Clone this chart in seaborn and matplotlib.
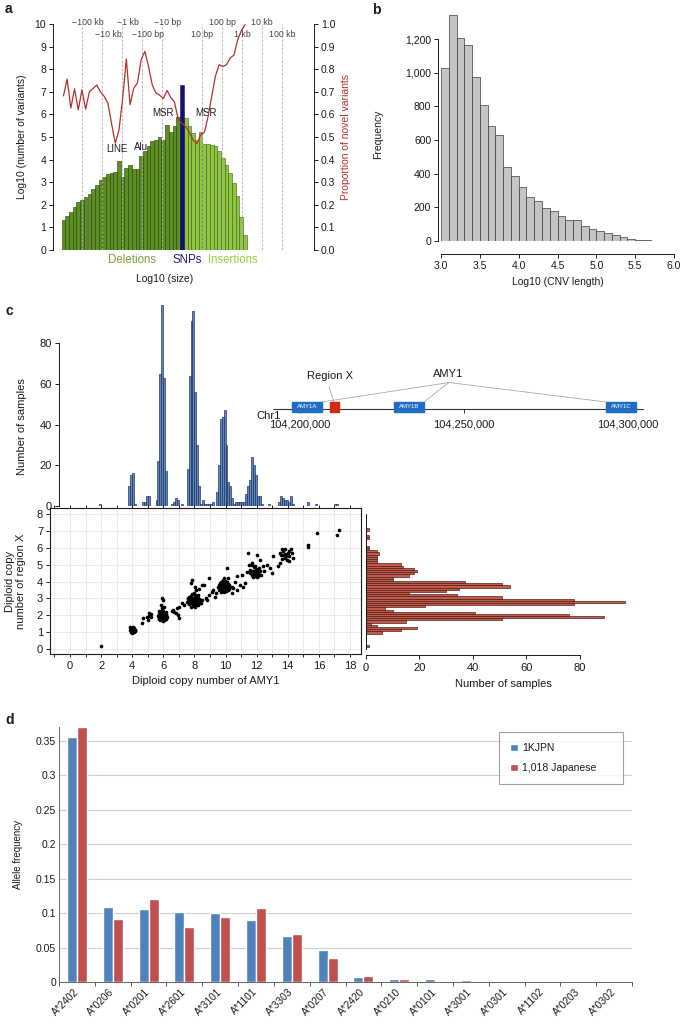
import numpy as np
import pandas as pd
import seaborn as sns
import matplotlib
matplotlib.use('Agg')
import matplotlib.pyplot as plt
from matplotlib.patches import Rectangle
from matplotlib.ticker import FuncFormatter, FormatStrFormatter, MultipleLocator

W, H = 685, 1025

# ---------------- data ----------------
# a: log10 variant counts per size bin, proportion of novel variants
del_log10n = [1.33, 1.52, 1.7, 1.92, 2.11, 2.22, 2.33, 2.47, 2.69, 2.88, 3.1, 3.25,
              3.35, 3.4, 3.47, 3.93, 3.25, 3.62, 3.77, 3.57, 3.57, 4.18, 4.36, 4.58,
              4.83, 4.87, 4.98, 4.87, 5.54, 5.24, 5.47, 5.88]
snp_log10n = 7.31
ins_log10n = [5.83, 5.5, 5.17, 4.87, 5.21, 4.7, 4.7, 4.65, 4.58, 4.4, 4.06, 3.74,
              3.4, 2.95, 2.41, 1.45, 0.66]
novel_del = [0.682, 0.756, 0.628, 0.713, 0.62, 0.709, 0.623, 0.70, 0.715, 0.73, 0.70,
             0.68, 0.65, 0.56, 0.473, 0.53, 0.67, 0.845, 0.643, 0.716, 0.739, 0.842,
             0.879, 0.812, 0.73, 0.695, 0.685, 0.67, 0.706, 0.675, 0.655, 0.58]
novel_snp = 0.56
novel_ins = [0.545, 0.52, 0.485, 0.47, 0.51, 0.52, 0.59, 0.68, 0.77, 0.82, 0.812,
             0.82, 0.85, 0.862, 0.93, 0.97, 0.997]
size_labels = ['\u2212100 kb', '\u221210 kb', '\u22121 kb', '\u2212100 bp', '\u221210 bp',
               '10 bp', '100 bp', '1 kb', '10 kb', '100 kb']
size_pos = [-5, -4, -3, -2, -1, 1, 2, 3, 4, 5]

# b: CNV length histogram
cnv_len = [3.05, 3.15, 3.25, 3.35, 3.45, 3.55, 3.65, 3.75, 3.85, 3.95, 4.05, 4.15, 4.25,
           4.35, 4.45, 4.55, 4.65, 4.75, 4.85, 4.95, 5.05, 5.15, 5.25, 5.35, 5.45,
           5.55, 5.65, 5.75]
cnv_freq = [1028, 1345, 1206, 1163, 974, 808, 683, 633, 442, 385, 319, 260, 236, 196,
            179, 147, 123, 123, 87, 69, 58, 48, 34, 22, 10, 8, 6, 2]

# c: AMY1 copy number histogram (bin centre, samples)
amy1_cn = [1.94, 3.81, 3.94, 4.06, 4.19, 4.69, 4.81, 4.94, 5.06, 5.56, 5.69, 5.81, 5.94,
           6.06, 6.19, 6.56, 6.69, 6.81, 6.94, 7.19, 7.56, 7.69, 7.81, 7.94, 8.06, 8.19,
           8.31, 8.44, 8.56, 8.69, 8.81, 8.94, 9.06, 9.19, 9.44, 9.56, 9.69, 9.81, 9.94,
           10.06, 10.19, 10.31, 10.44, 10.56, 10.69, 10.81, 10.94, 11.06, 11.19, 11.31,
           11.44, 11.56, 11.69, 11.81, 11.94, 12.06, 12.19, 12.31, 12.81, 13.44, 13.56,
           13.69, 13.81, 13.94, 14.06, 14.19, 14.31, 15.31, 15.81, 17.06, 17.19]
amy1_n = [1, 10, 15, 16, 1, 2, 2, 5, 5, 3, 22, 65, 99, 63, 17, 1, 2, 4, 3, 1, 18, 64, 91,
          96, 56, 30, 10, 1, 3, 1, 1, 1, 1, 2, 7, 20, 43, 44, 47, 30, 12, 10, 4, 1, 2, 2,
          2, 2, 2, 6, 10, 13, 24, 20, 15, 5, 5, 1, 1, 2, 5, 4, 3, 3, 2, 5, 1, 2, 1, 1, 1]

# c: region X copy number histogram (bin centre, samples)
regx_cn = [0.2, 0.98, 1.1, 1.24, 1.37, 1.5, 1.63, 1.76, 1.89, 2.02, 2.15, 2.28, 2.41,
           2.54, 2.67, 2.8, 2.93, 3.06, 3.19, 3.32, 3.45, 3.58, 3.71, 3.84, 3.97, 4.1,
           4.23, 4.36, 4.49, 4.62, 4.75, 4.88, 5.01, 5.14, 5.27, 5.4, 5.53, 5.66, 5.79,
           5.92, 6.05, 6.57, 6.7, 7.09]
regx_n = [1, 6, 13, 19, 4, 2, 15, 51, 89, 76, 41, 10, 7, 22, 78, 97, 78, 51, 34, 16, 30,
          35, 54, 51, 37, 10, 10, 16, 18, 19, 18, 14, 13, 4, 4, 4, 4, 5, 4, 1, 1, 1, 1, 1]

# c: scatter, AMY1 vs region X copy number (read cluster by cluster)
cn4_x = [3.85, 3.9, 3.95, 4.0, 4.05, 4.1, 4.15, 3.88, 3.97, 4.03, 4.12, 4.2, 3.92, 4.0,
         4.08, 3.95, 4.05, 4.18]
cn4_y = [1.1, 1.2, 1.0, 1.15, 1.05, 1.25, 1.1, 1.3, 0.95, 1.3, 1.0, 1.15, 1.05, 1.0,
         1.15, 1.25, 1.2, 1.05]
cn6_x = [5.65, 5.7, 5.75, 5.8, 5.85, 5.9, 5.95, 6.0, 6.05, 6.1, 6.15, 6.2, 6.25, 5.7, 5.8,
         5.9, 6.0, 6.1, 6.2, 5.75, 5.85, 5.95, 6.05, 6.15, 5.8, 5.9, 6.0, 6.1, 5.72, 5.88,
         6.02, 6.18, 5.95, 6.08, 5.82]
cn6_y = [1.95, 2.1, 1.8, 2.05, 1.75, 2.2, 1.9, 2.0, 1.7, 2.15, 1.85, 2.0, 1.9, 1.85, 1.95,
         1.8, 2.25, 1.95, 2.1, 2.25, 2.2, 2.05, 1.85, 2.2, 1.7, 2.3, 1.75, 2.05, 2.05, 1.9,
         2.1, 1.8, 1.65, 1.75, 2.15]
cn8_x = [7.55, 7.6, 7.65, 7.7, 7.75, 7.8, 7.85, 7.9, 7.95, 8.0, 8.05, 8.1, 8.15, 8.2, 8.25,
         8.3, 8.4, 8.5, 7.65, 7.75, 7.85, 7.95, 8.05, 8.15, 8.25, 8.35, 7.7, 7.8, 7.9, 8.0,
         8.1, 8.2, 7.6, 7.85, 8.05, 8.3, 7.95, 7.75, 8.1, 8.45]
cn8_y = [2.8, 3.0, 2.65, 2.9, 3.15, 2.7, 2.95, 2.55, 3.3, 2.85, 3.05, 2.6, 2.9, 3.2, 2.75,
         2.95, 2.85, 2.9, 3.1, 2.5, 3.25, 2.7, 2.5, 3.1, 3.05, 2.7, 2.75, 2.85, 3.05, 2.65,
         2.8, 2.6, 2.95, 2.75, 3.2, 2.85, 2.95, 3.0, 3.0, 2.7]
cn10_x = [9.5, 9.55, 9.6, 9.65, 9.7, 9.75, 9.8, 9.85, 9.9, 9.95, 10.0, 10.05, 10.1, 10.15,
          10.2, 10.3, 10.4, 9.6, 9.7, 9.8, 9.9, 10.0, 10.1, 10.2, 9.65, 9.75, 9.85, 9.95,
          10.05, 10.15, 9.72, 9.92, 10.08, 9.82]
cn10_y = [3.65, 3.8, 3.5, 3.9, 3.6, 3.75, 3.45, 3.95, 3.7, 3.55, 3.85, 3.6, 3.75, 3.5, 3.8,
          3.65, 3.7, 3.7, 4.0, 3.6, 3.4, 3.7, 3.95, 3.55, 3.55, 3.85, 3.75, 4.05, 3.45,
          3.85, 3.4, 3.85, 3.65, 4.1]
cn12_x = [11.55, 11.6, 11.7, 11.75, 11.8, 11.85, 11.9, 11.95, 12.0, 12.05, 12.1, 12.2,
          12.3, 11.65, 11.8, 11.9, 12.0, 12.15, 11.7, 11.85, 12.0, 12.1, 11.9, 11.75]
cn12_y = [4.5, 4.7, 4.4, 4.6, 4.85, 4.3, 4.55, 4.75, 4.45, 4.65, 4.5, 4.6, 4.4, 4.6, 4.45,
          4.9, 4.25, 4.8, 4.95, 4.5, 4.6, 4.35, 4.35, 4.25]
sparse_x = [1.97, 4.6, 4.71, 4.93, 5.08, 5.19, 4.99, 5.05, 5.2, 5.89, 5.96, 5.85, 6.05, 5.9,
            6.54, 6.79, 6.86, 6.96, 7.0, 7.0, 6.7, 7.18, 6.62, 7.3, 7.78, 7.82, 8.04, 8.46,
            8.61, 8.3, 8.1, 8.74, 8.96, 9.1, 9.32, 9.21, 8.93, 9.4, 8.8, 10.07, 10.13, 9.9,
            10.5, 10.71, 10.93, 10.76, 10.6, 10.4, 11.1, 11.25, 11.36, 11.04, 11.5, 11.7,
            11.46, 12.0, 12.2, 12.64, 12.86, 12.96, 12.5, 12.4, 13.07, 13.5, 13.6, 13.7,
            13.8, 13.9, 13.8, 13.6, 13.5, 14.0, 14.1, 14.2, 14.35, 14.1, 13.7, 13.55, 13.85,
            13.95, 14.05, 13.4, 14.3, 15.32, 15.28, 15.86, 17.14, 17.29]
sparse_y = [0.2, 1.52, 1.82, 1.92, 2.11, 1.88, 1.72, 1.98, 2.05, 3.0, 2.9, 2.61, 2.5, 2.45,
            2.27, 2.11, 2.41, 2.02, 1.82, 2.51, 2.2, 2.71, 2.3, 2.6, 3.89, 4.09, 3.7, 3.79,
            3.79, 3.55, 3.5, 3.0, 3.2, 3.4, 3.06, 3.5, 4.19, 3.3, 2.9, 4.78, 4.19, 4.2, 3.6,
            3.5, 3.79, 4.33, 3.99, 3.3, 3.7, 3.89, 4.58, 4.39, 5.0, 5.1, 5.67, 5.57, 5.3,
            4.98, 4.78, 4.49, 4.6, 4.9, 5.51, 5.7, 5.9, 5.8, 5.95, 5.5, 5.4, 5.35, 5.1, 5.7,
            5.8, 5.9, 5.4, 5.2, 5.55, 5.6, 5.65, 5.3, 5.5, 4.9, 5.7, 6.17, 6.03, 6.86, 6.76,
            7.06]

# c: AMY1 locus (bp)
genes = ['AMY1A', 'AMY1B', 'AMY1C']
gene_start = [104_197_600, 104_228_700, 104_293_300]
gene_end = [104_206_700, 104_237_800, 104_302_400]
regx_start, regx_end = 104_209_100, 104_211_900
chr_start, chr_end = 104_191_800, 104_304_600
chr_ticks = [104_200_000, 104_250_000, 104_300_000]

# d: HLA-A allele frequencies
alleles = ['A*2402', 'A*0206', 'A*0201', 'A*2601', 'A*3101', 'A*1101', 'A*3303', 'A*0207',
           'A*2420', 'A*0210', 'A*0101', 'A*3001', 'A*0301', 'A*1102', 'A*0203', 'A*0302']
freq_1kjpn = [0.355, 0.109, 0.106, 0.102, 0.100, 0.090, 0.067, 0.047, 0.007, 0.005, 0.004,
              0.003, 0.002, 0.0005, 0.0003, 0.0003]
freq_1018 = [0.370, 0.091, 0.121, 0.080, 0.095, 0.107, 0.069, 0.035, 0.008, 0.004, 0.002,
             0.0005, 0.002, 0.002, 0.0005, 0.0005]

# ---------------- style ----------------
sns.set_theme(style='ticks')
plt.rcParams['font.family'] = ['Liberation Sans', 'DejaVu Sans']
plt.rcParams.update({
    'font.size': 7.5, 'axes.labelsize': 7.5, 'xtick.labelsize': 7.5, 'ytick.labelsize': 7.5,
    'axes.linewidth': 0.7, 'xtick.major.width': 0.7, 'ytick.major.width': 0.7,
    'xtick.minor.width': 0.7, 'xtick.major.size': 3, 'ytick.major.size': 3,
    'xtick.minor.size': 3, 'xtick.major.pad': 2.5, 'ytick.major.pad': 2,
    'text.color': '#1a1a1a', 'axes.labelcolor': '#1a1a1a', 'axes.edgecolor': '#1a1a1a',
    'xtick.color': '#1a1a1a', 'ytick.color': '#1a1a1a',
})


def box(x0, y0, x1, y1):
    return [x0 / W, 1 - y1 / H, (x1 - x0) / W, (y1 - y0) / H]


fig = plt.figure(figsize=(W / 100, H / 100), dpi=100)

# ---------------- panel a ----------------
ax_a = fig.add_axes(box(53, 24, 300, 250))
bw = 0.185
del_x = -0.1 - bw * (np.arange(len(del_log10n))[::-1] + 0.5)
ins_x = 0.1 + bw * (np.arange(len(ins_log10n)) + 0.5)
ax_a.bar(del_x, del_log10n, width=bw, color='#5e8f22', edgecolor='#213d08', linewidth=0.4)
ax_a.bar(ins_x, ins_log10n, width=bw, color='#8fc640', edgecolor='#3c5c12', linewidth=0.4)
ax_a.vlines(size_pos, 0, 10, colors='#b0b0b0', linestyles=(0, (3, 2)), lw=0.6, zorder=3)
ax_a.bar([0], [snp_log10n], width=0.2, color='#12126e', edgecolor='#12126e', lw=0.4, zorder=4)
for i, (p, lab) in enumerate(zip(size_pos, size_labels)):
    yy = 10.05 if i % 2 == 0 else 9.55
    ax_a.text(p + (0.3 if p < 0 else 0.0), yy, lab, ha='center', va='center',
              fontsize=6.3, color='#444444', clip_on=False)
ax_a.set_xlim(-6.45, 5.9)
ax_a.set_ylim(0, 10)
ax_a.set_yticks(range(11))
ax_a.set_xticks([])
for s in ['top', 'right', 'bottom']:
    ax_a.spines[s].set_visible(False)
ax_a.set_ylabel('Log10 (number of variants)')
ax_a.yaxis.set_label_coords(-0.105, 0.5)
for txt, x, y in [('LINE', -3.25, 4.45), ('Alu', -2.05, 4.55), ('MSR', -0.95, 6.05),
                  ('MSR', 1.2, 6.05)]:
    ax_a.text(x, y, txt, ha='center', va='center', fontsize=7, zorder=5)
ax_a.text(-2.5, -0.44, 'Deletions', color='#7a9e3a', ha='center', va='center', fontsize=8.3,
          clip_on=False)
ax_a.text(0.27, -0.44, 'SNPs', color='#1a1a80', ha='center', va='center', fontsize=8.3,
          clip_on=False)
ax_a.text(2.55, -0.44, 'Insertions', color='#9ccc3c', ha='center', va='center', fontsize=8.3,
          clip_on=False)
ax_a.text(-0.85, -1.05, 'Log10 (size)', ha='center', va='top', fontsize=7.5, clip_on=False)

ax_a2 = ax_a.twinx()
all_x = np.concatenate([del_x, [0.0], ins_x])
novel = novel_del + [novel_snp] + novel_ins
sns.lineplot(x=all_x, y=novel, ax=ax_a2, color='#b3302c', lw=0.9, zorder=2)
ax_a2.set_ylim(0, 1)
ax_a2.set_yticks(np.arange(0, 1.01, 0.1))
ax_a2.yaxis.set_major_formatter(FormatStrFormatter('%.1f'))
for s in ['top', 'left', 'bottom']:
    ax_a2.spines[s].set_visible(False)
ax_a2.spines['right'].set_position(('outward', 10))
ax_a2.set_ylabel('Proportion of novel variants', color='#b3302c')
ax_a2.yaxis.set_label_coords(1.165, 0.5)
fig.text(5 / W, 1 - 9 / H, 'a', fontsize=10, fontweight='bold', va='center')

# ---------------- panel b ----------------
ax_b = fig.add_axes(box(441, 14, 674, 241))
sns.histplot(x=cnv_len, weights=cnv_freq, binwidth=0.1, binrange=(3.0, 5.8), ax=ax_b,
             color='#c4c4c4', edgecolor='#3a3a3a', linewidth=0.5, alpha=1)
ax_b.set_xlim(3.0, 6.0)
ax_b.set_ylim(0, 1350)
ax_b.set_yticks(range(0, 1201, 200))
ax_b.yaxis.set_major_formatter(FuncFormatter(lambda v, p: f'{int(v):,}'))
ax_b.set_xticks(np.arange(3.0, 6.01, 0.5))
ax_b.xaxis.set_major_formatter(FormatStrFormatter('%.1f'))
for s in ['top', 'right']:
    ax_b.spines[s].set_visible(False)
ax_b.spines['left'].set_position(('outward', 2))
ax_b.spines['left'].set_bounds(0, 1200)
ax_b.spines['bottom'].set_position(('outward', 9))
ax_b.set_ylabel('Frequency')
ax_b.yaxis.set_label_coords(-0.25, 0.47)
ax_b.set_xlabel('Log10 (CNV length)')
fig.text(372 / W, 1 - 10 / H, 'b', fontsize=10, fontweight='bold', va='center')

# ---------------- panel c ----------------
xlim_c = (-20 / 15.556, 18 + 11 / 15.556)
ylim_c = (-5 / 16.875, 8 + 6 / 16.875)

ax_top = fig.add_axes(box(50, 302.6, 361, 506))
sns.histplot(x=amy1_cn, weights=amy1_n, binwidth=0.125, binrange=(0, 18), ax=ax_top,
             color='#5b86c9', edgecolor='#1d2a48', linewidth=0.45, alpha=1)
ax_top.set_xlim(xlim_c)
ax_top.set_ylim(0, 100)
ax_top.set_yticks(range(0, 81, 20))
ax_top.set_xticks([])
ax_top.tick_params(labelsize=8)
for s in ['top', 'right', 'bottom']:
    ax_top.spines[s].set_visible(False)
ax_top.spines['left'].set_position(('data', -0.7))
ax_top.spines['left'].set_bounds(0, 80)
ax_top.set_ylabel('Number of samples', fontsize=8)
ax_top.yaxis.set_label_coords(-0.074, 0.39)
ax_top.set_xlabel('')

ax_s = fig.add_axes(box(50, 508, 361, 654))
sc_x = cn4_x + cn6_x + cn8_x + cn10_x + cn12_x + sparse_x
sc_y = cn4_y + cn6_y + cn8_y + cn10_y + cn12_y + sparse_y
sns.scatterplot(x=sc_x, y=sc_y, ax=ax_s, color='black', s=7, linewidth=0, zorder=3)
ax_s.set_xlim(xlim_c)
ax_s.set_ylim(ylim_c)
ax_s.set_xticks(range(0, 19, 2))
ax_s.xaxis.set_minor_locator(MultipleLocator(1))
ax_s.set_yticks(range(0, 9))
ax_s.grid(which='both', color='#e3e3e3', lw=0.5)
ax_s.tick_params(which='both', top=True, direction='out', labelsize=8)
ax_s.tick_params(which='both', axis='x', top=True, length=2.5)
ax_s.set_xlabel('Diploid copy number of AMY1', fontsize=8)
ax_s.set_ylabel('Diploid copy\nnumber of region X', linespacing=1.1, fontsize=8)
ax_s.yaxis.set_label_coords(-0.077, 0.5)
for s in ax_s.spines.values():
    s.set_linewidth(0.8)

ax_r = fig.add_axes(box(366, 508, 640, 654))
sns.histplot(y=regx_cn, weights=regx_n, binwidth=0.13, binrange=(0, 7.28), ax=ax_r,
             color='#c85a4a', edgecolor='#3a1510', linewidth=0.45, alpha=1)
ax_r.set_ylim(ylim_c)
ax_r.set_xlim(0, 102.6)
ax_r.set_xticks(range(0, 81, 20))
ax_r.set_yticks([])
ax_r.tick_params(labelsize=8)
for s in ['top', 'right']:
    ax_r.spines[s].set_visible(False)
ax_r.spines['left'].set_bounds(0, 8)
ax_r.spines['bottom'].set_position(('outward', 1))
ax_r.spines['bottom'].set_bounds(0, 80)
ax_r.set_xlabel('Number of samples', fontsize=8)
ax_r.set_ylabel('')
fig.text(5 / W, 1 - 311 / H, 'c', fontsize=10, fontweight='bold', va='center')

# locus diagram
ax_g = fig.add_axes(box(250, 350, 665, 432))
ax_g.set_xlim(104_184_756, 104_311_280)
ax_g.set_ylim(432, 350)
ax_g.axis('off')
ax_g.plot([chr_start, chr_end], [409, 409], color='#333333', lw=0.8)
ax_g.vlines(chr_ticks, 409, 413, color='#333333', lw=0.7)
for t in chr_ticks:
    ax_g.text(t, 425, f'{t:,}', ha='center', va='center', fontsize=8)
ax_g.text(chr_start - 5000, 416.5, 'Chr1', ha='left', va='center', fontsize=8)
lead = dict(color='#9a9a9a', lw=0.5)
ax_g.plot([104_208_840, 104_210_370], [387, 402], **lead)
ax_g.text(104_209_150, 376, 'Region X', ha='center', va='center', fontsize=8)
ax_g.text(104_245_100, 374, 'AMY1', ha='center', va='center', fontsize=8)
for tgt in [gene_end[0], gene_end[1], gene_start[2]]:
    ax_g.plot([104_245_400, tgt], [382.5, 402], **lead)
for name, s0, s1 in zip(genes, gene_start, gene_end):
    ax_g.add_patch(Rectangle((s0, 402), s1 - s0, 10, color='#1f6ec4', zorder=3))
    ax_g.text((s0 + s1) / 2, 407, name, color='white', ha='center', va='center',
              fontsize=4.3, zorder=4)
ax_g.add_patch(Rectangle((regx_start, 401.7), regx_end - regx_start, 10.3, color='#d3290f',
                         zorder=3))

# ---------------- panel d ----------------
ax_d = fig.add_axes(box(59, 727, 632, 982))
df_d = pd.DataFrame({
    'allele': alleles * 2,
    'freq': freq_1kjpn + freq_1018,
    'cohort': ['1KJPN'] * len(alleles) + ['1,018 Japanese'] * len(alleles),
})
sns.barplot(data=df_d, x='allele', y='freq', hue='cohort', palette=['#4f81bd', '#c0504d'],
            width=0.56, saturation=1, ax=ax_d, zorder=3)
ax_d.set_ylim(0, 0.37)
ax_d.set_xlim(-0.5, 15.5)
ax_d.set_yticks(np.arange(0, 0.351, 0.05))
ax_d.yaxis.set_major_formatter(FuncFormatter(lambda v, p: f'{v:g}' if v > 0 else '0'))
ax_d.yaxis.grid(True, color='#cfcfcf', lw=0.8)
ax_d.set_axisbelow(True)
ax_d.set_xticks(np.arange(-0.5, 16, 1))
ax_d.set_xticklabels([])
ax_d.set_xticks(np.arange(16), minor=True)
ax_d.set_xticklabels(alleles, minor=True, rotation=45, ha='right', va='center',
                     rotation_mode='anchor', fontsize=7.3)
ax_d.tick_params(axis='x', which='minor', length=0, pad=6)
ax_d.tick_params(axis='x', which='major', length=3, color='#555555')
ax_d.tick_params(axis='y', length=0, labelsize=7.5)
for s in ['top', 'right']:
    ax_d.spines[s].set_visible(False)
ax_d.spines['left'].set_color('#666666')
ax_d.spines['bottom'].set_color('#666666')
ax_d.set_xlabel('')
ax_d.set_ylabel('Allele frequency', fontsize=7)
ax_d.yaxis.set_label_coords(-0.062, 0.5)
handles, labels = ax_d.get_legend_handles_labels()
ax_d.legend(handles, labels, loc='upper left',
            bbox_to_anchor=(499 / W, 1 - 782 / H, 124 / W, 50 / H),
            bbox_transform=fig.transFigure, mode='expand', frameon=True, fancybox=False,
            edgecolor='#8a8a8a', handlelength=0.7, handleheight=0.7, handletextpad=0.4,
            borderpad=1.1, labelspacing=0.9, fontsize=7.5, borderaxespad=0)
ax_d.get_legend().get_frame().set_linewidth(0.8)
fig.text(5 / W, 1 - 720 / H, 'd', fontsize=10, fontweight='bold', va='center')

fig.savefig('out.png', dpi=100)
